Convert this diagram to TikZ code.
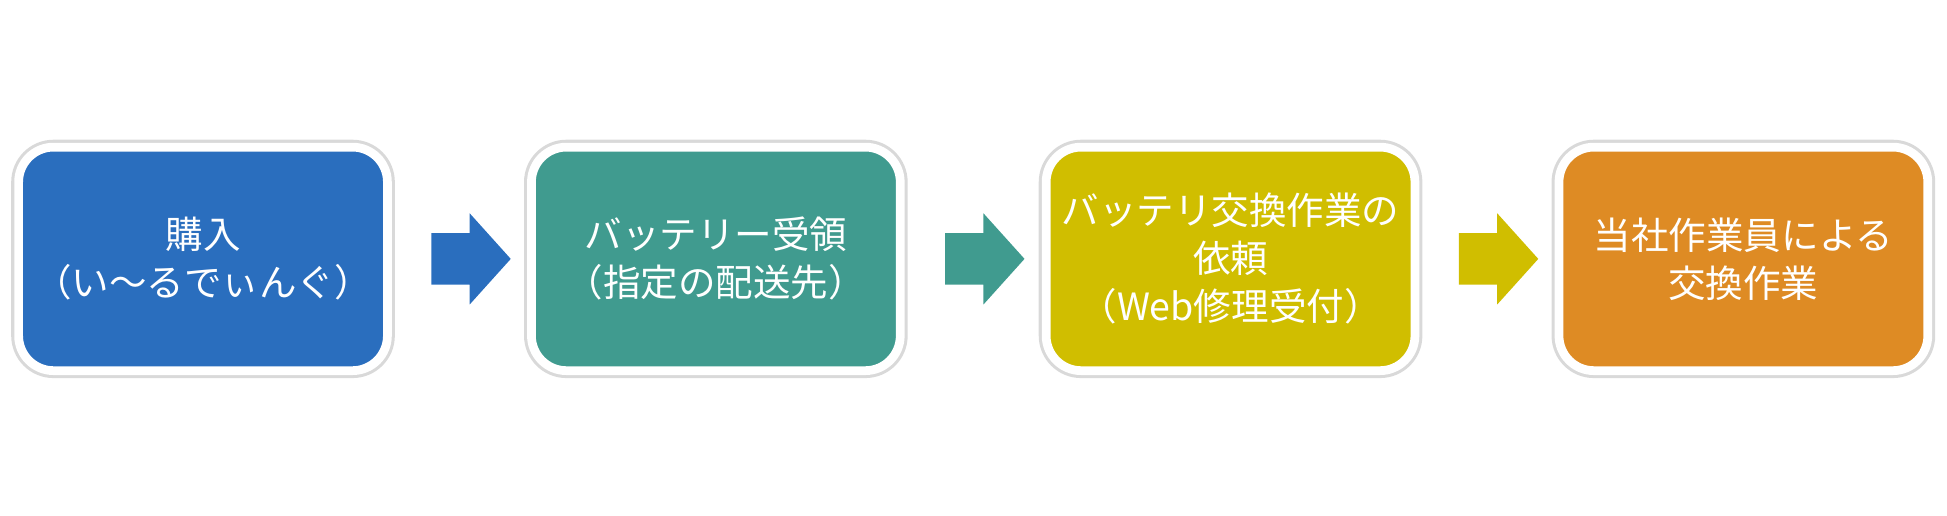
\documentclass[tikz,border=0pt]{standalone}
\usepackage{fontspec}
\setmainfont{Noto Sans CJK JP}
\usetikzlibrary{shapes.arrows, positioning, calc}
\definecolor{cblue}{HTML}{2A6EBE}
\definecolor{cteal}{HTML}{409B8F}
\definecolor{colive}{HTML}{D0BE00}
\definecolor{corange}{HTML}{DE8B24}
\tikzstyle{stepbox} = [rectangle, rounded corners=8pt, draw=white, line width=2pt, minimum height=1.8cm, minimum width=2.97cm, text=white, align=center, font=\fontsize{8.6}{11}\selectfont, inner sep=2pt, preaction={draw=black!15, line width=3.4pt}]
\tikzstyle{flow} = [single arrow, minimum height=0.64cm, minimum width=0.72cm, inner sep=0.2cm, single arrow head extend=0.16cm, single arrow tip angle=96]

\begin{document}
\begin{tikzpicture}
\useasboundingbox (0,0) rectangle (15.68,4.155);

% Steps
\node[stepbox, fill=cblue] (buy) at (1.635,2.07) {購入\\（い～るでぃんぐ）};
\node[stepbox, fill=cteal] (recv) at (5.765,2.07) {バッテリー受領\\（指定の配送先）};
\node[stepbox, fill=colive] (req) at (9.91,2.07) {バッテリ交換作業の\\依頼\\（Web修理受付）};
\node[stepbox, fill=corange] (swap) at (14.04,2.07) {当社作業員による\\交換作業};

% Arrows
\node[flow, fill=cblue] (a1) at ($(buy.east)!0.5!(recv.west)$) {};
\node[flow, fill=cteal] (a2) at ($(recv.east)!0.5!(req.west)$) {};
\node[flow, fill=colive] (a3) at ($(req.east)!0.5!(swap.west)$) {};

\end{tikzpicture}
\end{document}
